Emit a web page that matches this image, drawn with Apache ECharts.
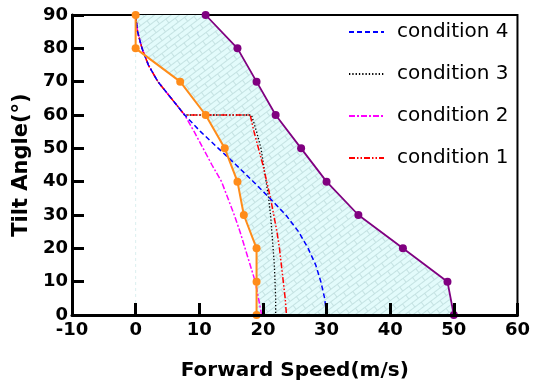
<!DOCTYPE html>
<html>
<head>
<meta charset="utf-8">
<script src="https://cdn.jsdelivr.net/npm/echarts@6/dist/echarts.min.js"></script>
<style>
  html, body { margin: 0; padding: 0; background: #fff; }
  #chart { width: 533px; height: 386px; }
</style>
</head>
<body>
<div id="chart"></div>
<script>
// angles (deg) for the measured points
var markAngles = [90, 80, 70, 60, 50, 40, 30, 20, 10, 0];
var lowerSpeed = [0, 0, 7, 11, 14, 16, 17, 19, 19, 19];     // orange
var upperSpeed = [11, 16, 19, 22, 26, 30, 35, 42, 49, 50];  // purple

// shared upper part of the condition curves (90 -> 60 deg)
var topAngles = [90, 85, 80, 75, 70, 65, 60];
var topSpeed = [0, 0.3, 1.0, 2.0, 3.5, 5.6, 7.7];

// lower part (60 -> 0 deg)
var lowAngles = [60, 55, 50, 45, 40, 35, 30, 25, 20, 15, 10, 5, 0];
var cond4Speed = [7.7, 10.2, 13.0, 15.8, 18.5, 21.1, 23.6, 25.6, 27.1, 28.3, 29.1, 29.7, 30.0];
var cond2Speed = [7.7, 9.2, 10.6, 12.0, 13.5, 14.5, 15.5, 16.4, 17.2, 18.0, 18.8, 19.3, 19.8];
var cond1Speed = [18.0, 18.6, 19.3, 20.0, 20.6, 21.2, 21.7, 22.2, 22.6, 22.9, 23.2, 23.5, 23.7];
var cond3Speed = [18.2, 19.0, 19.7, 20.1, 20.5, 20.9, 21.2, 21.4, 21.6, 21.8, 21.9, 22.0, 22.0];

var xTicks = { min: -10, max: 60, step: 10 };
var yTicks = { min: 0, max: 90, step: 10 };

function pairs(xs, ys) {
    return xs.map(function(x, i) { return [x, ys[i]] })
}

var topPart = pairs(topSpeed, topAngles);

function curve(lowSpeed, flat) {
    var pts = topPart.slice();
    // flat segment along 60 deg for conditions 1 and 3
    if (flat) pts.push([lowSpeed[0], 60]);
    return pts.concat(pairs(lowSpeed, lowAngles).slice(1));
}

// fill region: top of the curves, then orange lower bound, then purple back up
function fillPolygon() {
    var pts = [[0, 90], [0.3, 85], [1.0, 80], [2.0, 77.2]];
    var lower = pairs(lowerSpeed, markAngles).slice(2);
    var upper = pairs(upperSpeed, markAngles).reverse();
    return pts.concat(lower, upper);
}

function makeBrick() {
    var c = document.createElement('canvas');
    c.width = 16;
    c.height = 10;
    var g = c.getContext('2d');
    g.fillStyle = '#e3fbfb';
    g.fillRect(0, 0, 16, 10);
    g.strokeStyle = '#c4e2e2';
    g.lineWidth = 1;
    g.beginPath();
    g.moveTo(0, 0.5); g.lineTo(16, 0.5);
    g.moveTo(0, 5.5); g.lineTo(16, 5.5);
    g.moveTo(0.5, 0); g.lineTo(0.5, 5.5);
    g.moveTo(8.5, 5.5); g.lineTo(8.5, 10);
    g.stroke();
    return c;
}

var font = 'DejaVu Sans';
var brick = makeBrick();
var poly = fillPolygon();

var chart = echarts.init(document.getElementById('chart'), null, { renderer: 'canvas' });

function axisBase() {
    return {
        type: 'value',
        z: 10,
        axisLine: { show: true, onZero: false, lineStyle: { color: '#000', width: 3 } },
        axisTick: { show: true, inside: true, length: 12, lineStyle: { color: '#000', width: 3 } },
        axisLabel: { fontFamily: font, fontWeight: 'bold', fontSize: 18, color: '#000' },
        splitLine: { show: false }
    };
}

var xAxis = axisBase();
xAxis.min = xTicks.min;
xAxis.max = xTicks.max;
xAxis.interval = xTicks.step;
xAxis.name = 'Forward Speed(m/s)';
xAxis.nameLocation = 'middle';
xAxis.nameGap = 46;
xAxis.nameTextStyle = { fontFamily: font, fontWeight: 'bold', fontSize: 20, color: '#000' };
xAxis.axisLabel.margin = 6;

var yAxis = axisBase();
yAxis.min = yTicks.min;
yAxis.max = yTicks.max;
yAxis.interval = yTicks.step;
yAxis.name = 'Tilt Angle(°)';
yAxis.nameLocation = 'middle';
yAxis.nameGap = 37;
yAxis.nameRotate = 90;
yAxis.nameTextStyle = { fontFamily: font, fontWeight: 'bold', fontSize: 21, color: '#000' };
yAxis.axisLabel.margin = 4;

var option = {
    animation: false,
    backgroundColor: '#fff',
    grid: {
        left: 72, right: 12, top: 15, bottom: 71,
        show: true, backgroundColor: 'transparent', borderColor: '#000', borderWidth: 2
    },
    legend: {
        data: ['condition 4', 'condition 3', 'condition 2', 'condition 1'],
        orient: 'vertical',
        left: 343,
        top: 16,
        itemWidth: 35,
        itemHeight: 14,
        itemGap: 20,
        itemStyle: { opacity: 0 },
        textStyle: { fontFamily: font, fontSize: 20, color: '#000', padding: [0, 0, 0, 8], lineHeight: 22 }
    },
    xAxis: xAxis,
    yAxis: yAxis,
    series: [
        {
            name: 'envelope',
            type: 'custom',
            silent: true,
            z: 1,
            data: [[0, 0]],
            renderItem: function(params, api) {
                var points = poly.map(function(p) { return api.coord(p) });
                return {
                    type: 'polygon',
                    shape: { points: points },
                    style: {
                        fill: { image: brick, repeat: 'repeat', rotation: -0.65 },
                        stroke: null
                    }
                };
            }
        },
        {
            name: 'zero',
            type: 'line',
            silent: true,
            symbol: 'none',
            z: 1,
            data: [[0, 0], [0, 90]],
            lineStyle: { color: '#dcefef', width: 1, type: [3, 3] }
        },
        {
            name: 'condition 3',
            type: 'line', symbol: 'none', z: 3,
            data: curve(cond3Speed, true),
            itemStyle: { color: '#000' },
            lineStyle: { color: '#000', width: 1.3, type: [1.3, 2] }
        },
        {
            name: 'condition 2',
            type: 'line', symbol: 'none', z: 3,
            data: curve(cond2Speed, false),
            itemStyle: { color: '#ff00ff' },
            lineStyle: { color: '#ff00ff', width: 1.5, type: [6, 2, 2, 2] }
        },
        {
            name: 'condition 1',
            type: 'line', symbol: 'none', z: 3,
            data: curve(cond1Speed, true),
            itemStyle: { color: '#ff0000' },
            lineStyle: { color: '#ff0000', width: 1.5, type: [6, 2, 1.5, 2, 1.5, 2] }
        },
        {
            name: 'condition 4',
            type: 'line', symbol: 'none', z: 3,
            data: curve(cond4Speed, false),
            itemStyle: { color: '#0000ff' },
            lineStyle: { color: '#0000ff', width: 1.5, type: [5, 3] }
        },
        {
            name: 'lower',
            type: 'line', z: 4,
            symbol: 'circle', symbolSize: 8,
            data: pairs(lowerSpeed, markAngles),
            itemStyle: { color: '#ff8c1a' },
            lineStyle: { color: '#ff8c1a', width: 2 }
        },
        {
            name: 'upper',
            type: 'line', z: 4,
            symbol: 'circle', symbolSize: 8,
            data: pairs(upperSpeed, markAngles),
            itemStyle: { color: '#800080' },
            lineStyle: { color: '#800080', width: 1.8 }
        }
    ]
};

chart.setOption(option);
</script>
</body>
</html>
